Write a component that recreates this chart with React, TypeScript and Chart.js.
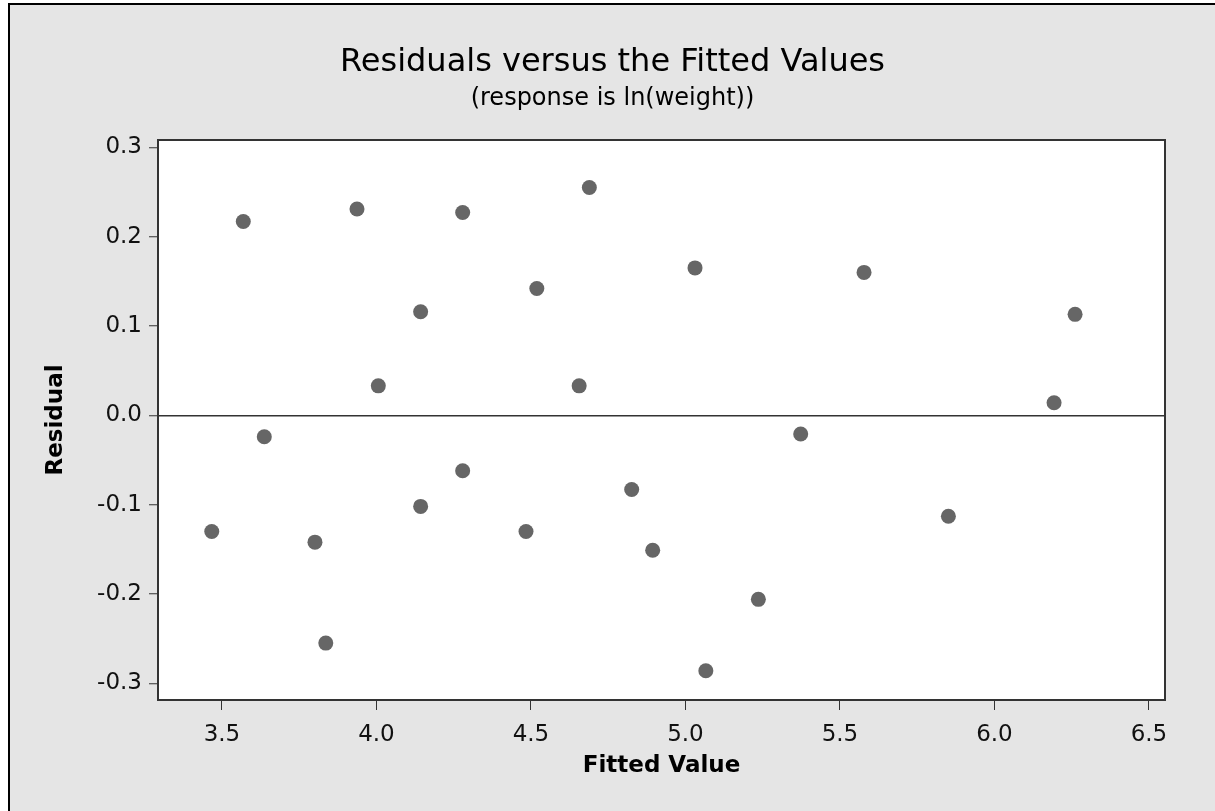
import React, { useEffect, useRef } from "react";
import { Chart, registerables } from "chart.js";

Chart.register(...registerables);

// Data
const fittedValues = [
  3.569, 3.937, 4.279, 4.689, 4.519, 4.143, 4.006, 4.656, 5.031, 5.578, 6.261, 6.193,
  3.637, 4.279, 4.826, 4.143, 3.467, 4.484, 3.801, 4.894, 3.836, 5.373, 5.851, 5.236, 5.066,
];
const residuals = [
  0.217, 0.231, 0.227, 0.255, 0.142, 0.116, 0.033, 0.033, 0.165, 0.160, 0.113, 0.014,
  -0.024, -0.062, -0.083, -0.102, -0.130, -0.130, -0.142, -0.151, -0.255, -0.021, -0.113, -0.206, -0.286,
];
const xTickValues = [3.5, 4.0, 4.5, 5.0, 5.5, 6.0, 6.5];
const yTickValues = [-0.3, -0.2, -0.1, 0.0, 0.1, 0.2, 0.3];
const titleText = "Residuals versus the Fitted Values";
const subtitleText = "(response is ln(weight))";
const xAxisTitle = "Fitted Value";
const yAxisTitle = "Residual";

const FONT = "'DejaVu Sans', sans-serif";

export default function App() {
  const ref = useRef<HTMLCanvasElement>(null);

  useEffect(() => {
    if (!ref.current) return;
    const plotFrame = {
      id: "plotFrame",
      beforeDraw(chart: any) {
        const { ctx, chartArea } = chart;
        ctx.save();
        ctx.fillStyle = "#ffffff";
        ctx.fillRect(chartArea.left, chartArea.top, chartArea.width, chartArea.height);
        ctx.restore();
      },
      afterDraw(chart: any) {
        const { ctx, chartArea } = chart;
        ctx.save();
        ctx.strokeStyle = "#333333";
        ctx.lineWidth = 2;
        ctx.strokeRect(chartArea.left, chartArea.top, chartArea.width, chartArea.height);
        ctx.restore();
      },
    };

    const chart = new Chart(ref.current, {
      type: "scatter",
      data: {
        datasets: [
          {
            data: fittedValues.map((x, i) => ({ x, y: residuals[i] })),
            backgroundColor: "#666666",
            borderWidth: 0,
            pointRadius: 7.5,
            pointHoverRadius: 7.5,
          },
        ],
      },
      options: {
        animation: false,
        responsive: false,
        events: [],
        layout: { padding: 0 },
        plugins: {
          legend: { display: false },
          tooltip: { enabled: false },
          title: {
            display: true,
            text: titleText,
            color: "#000000",
            font: { family: FONT, size: 32, weight: "normal", lineHeight: 1.2 },
            padding: { top: 38, bottom: 0 },
          },
          subtitle: {
            display: true,
            text: subtitleText,
            color: "#000000",
            font: { family: FONT, size: 24, weight: "normal", lineHeight: 1.2 },
            padding: { top: 3.2, bottom: 26.6 },
          },
        },
        scales: {
          x: {
            type: "linear",
            position: "bottom",
            min: 3.293,
            max: 6.552,
            afterBuildTicks: (s: any) => {
              s.ticks = xTickValues.map((v) => ({ value: v }));
            },
            afterFit: (s: any) => {
              s.height = 111;
            },
            ticks: {
              callback: (v: any) => Number(v).toFixed(1),
              color: "#111111",
              font: { family: FONT, size: 23 },
              padding: 11,
              maxRotation: 0,
              autoSkip: false,
            },
            grid: {
              display: true,
              drawOnChartArea: false,
              drawTicks: true,
              tickLength: 10,
              tickColor: "#333333",
              tickWidth: 1,
            },
            border: { display: false },
            title: {
              display: true,
              text: xAxisTitle,
              color: "#000000",
              font: { family: FONT, size: 23, weight: "bold", lineHeight: 1.2 },
              padding: { top: 0, bottom: 31 },
            },
          },
          y: {
            type: "linear",
            position: "left",
            min: -0.3187,
            max: 0.3082,
            afterBuildTicks: (s: any) => {
              s.ticks = yTickValues.map((v) => ({ value: v }));
            },
            afterFit: (s: any) => {
              s.width = 148;
            },
            ticks: {
              callback: (v: any) => Number(v).toFixed(1),
              color: "#111111",
              font: { family: FONT, size: 23 },
              padding: 7,
              autoSkip: false,
            },
            grid: {
              display: true,
              drawOnChartArea: true,
              drawTicks: true,
              color: (c: any) => (c.tick && c.tick.value === 0 ? "#333333" : "rgba(0,0,0,0)"),
              lineWidth: 1.5,
              tickLength: 9,
              tickColor: "#333333",
              tickWidth: 1,
            },
            border: { display: false },
            title: {
              display: true,
              text: yAxisTitle,
              color: "#000000",
              font: { family: FONT, size: 23, weight: "bold", lineHeight: 1.2 },
              padding: { top: 32, bottom: 0 },
            },
          },
          yRight: {
            type: "linear",
            position: "right",
            display: true,
            ticks: { display: false },
            grid: { display: false },
            border: { display: false },
            afterFit: (s: any) => {
              s.width = 50;
            },
          },
        },
      } as any,
      plugins: [plotFrame],
    });

    return () => chart.destroy();
  }, []);

  return (
    <div
      style={{
        position: "absolute",
        left: 8,
        top: 3,
        width: 1207,
        height: 808,
        boxSizing: "border-box",
        borderLeft: "2px solid #000",
        borderTop: "2px solid #000",
        background: "#e5e5e5",
      }}
    >
      <canvas ref={ref} width={1205} height={806} style={{ display: "block" }} />
    </div>
  );
}
